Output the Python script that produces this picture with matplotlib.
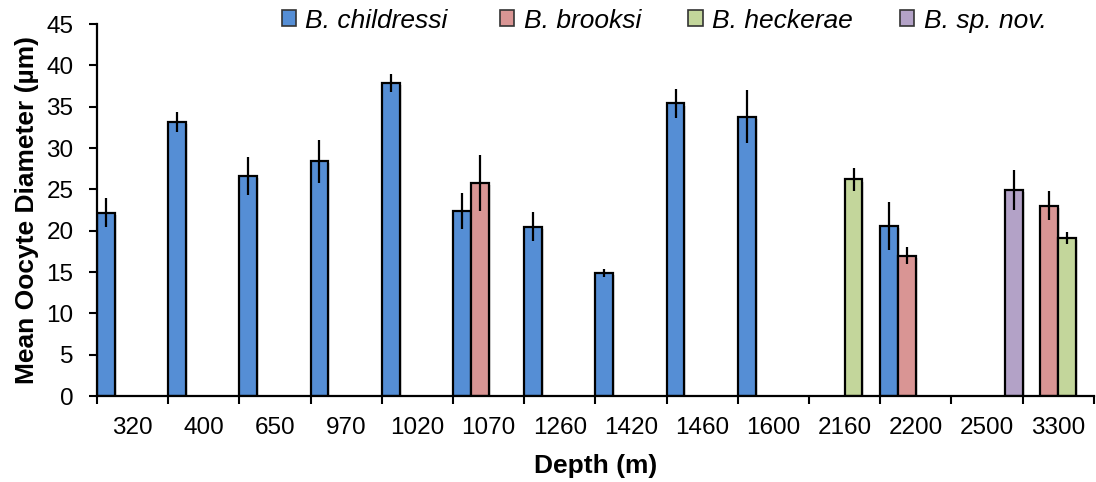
import matplotlib
matplotlib.use('Agg')
import matplotlib.pyplot as plt
import matplotlib.patheffects as pe
from matplotlib.patches import Patch
import numpy as np

plt.rcParams['font.family'] = ['Liberation Sans', 'DejaVu Sans']

depths = ['320', '400', '650', '970', '1020', '1070', '1260', '1420',
          '1460', '1600', '2160', '2200', '2500', '3300']

species = ['B. childressi', 'B. brooksi', 'B. heckerae', 'B. sp. nov.']
colors = ['#558ED5', '#D99594', '#C3D69B', '#B3A2C7']

nan = np.nan
# mean oocyte diameter per depth (um), nan = species not sampled there
childressi = [22.2, 33.2, 26.6, 28.4, 37.9, 22.4, 20.5, 14.9, 35.4, 33.8, nan, 20.6, nan, nan]
brooksi = [nan, nan, nan, nan, nan, 25.8, nan, nan, nan, nan, nan, 17.0, nan, 23.0]
heckerae = [nan, nan, nan, nan, nan, nan, nan, nan, nan, nan, 26.2, nan, nan, 19.1]
sp_nov = [nan, nan, nan, nan, nan, nan, nan, nan, nan, nan, nan, nan, 24.9, nan]

# standard errors
childressi_err = [1.8, 1.2, 2.3, 2.6, 1.1, 2.2, 1.75, 0.45, 1.8, 3.2, nan, 2.9, nan, nan]
brooksi_err = [nan, nan, nan, nan, nan, 3.4, nan, nan, nan, nan, nan, 1.0, nan, 1.75]
heckerae_err = [nan, nan, nan, nan, nan, nan, nan, nan, nan, nan, 1.4, nan, nan, 0.7]
sp_nov_err = [nan, nan, nan, nan, nan, nan, nan, nan, nan, nan, nan, nan, 2.4, nan]

means = [childressi, brooksi, heckerae, sp_nov]
errs = [childressi_err, brooksi_err, heckerae_err, sp_nov_err]

fig = plt.figure(figsize=(10.96, 4.82), dpi=100)
ax = fig.add_axes([0.0885, 0.1784, 0.9095, 0.7716])

x = np.arange(len(depths))
width = 0.25
shadow = [pe.SimplePatchShadow(offset=(1.5, -1.5), shadow_rgbFace='0.5', alpha=0.25), pe.Normal()]

for j in range(len(species)):
    vals = np.array(means[j], dtype=float)
    ee = np.array(errs[j], dtype=float)
    ok = ~np.isnan(vals)
    pos = x[ok] - 0.5 + (j + 0.5) * width
    bars = ax.bar(pos, vals[ok], width, color=colors[j], edgecolor='black',
                  linewidth=1.6, zorder=2)
    for b in bars:
        b.set_path_effects(shadow)
    ax.errorbar(pos, vals[ok], yerr=ee[ok], fmt='none', ecolor='black',
                elinewidth=1.6, capsize=0, zorder=3)

ax.set_xlim(-0.5, len(depths) - 0.5)
ax.set_ylim(0, 45)
ax.set_yticks(np.arange(0, 46, 5))

ax.set_xticks(x)
ax.set_xticklabels(depths)
ax.set_xticks(np.arange(-0.5, len(depths)), minor=True)
ax.tick_params(axis='x', which='major', length=0, pad=15, labelsize=17.5)
ax.tick_params(axis='x', which='minor', length=6, width=1.5, direction='out')
ax.tick_params(axis='y', length=6, width=1.5, direction='out', pad=11, labelsize=17.5)

for s in ['top', 'right']:
    ax.spines[s].set_visible(False)
for s in ['left', 'bottom']:
    ax.spines[s].set_linewidth(1.6)

ax.set_ylabel('Mean Oocyte Diameter (µm)', fontsize=19, fontweight='bold', labelpad=5)
ax.set_xlabel('Depth (m)', fontsize=19, fontweight='bold', labelpad=11)

# one legend entry per species, spread across the top
legend_x = [0.257, 0.456, 0.628, 0.821]
for c, name, lx in zip(colors, species, legend_x):
    fig.legend([Patch(facecolor=c, edgecolor='#333333', linewidth=1.2)], [name],
               loc='center left', bbox_to_anchor=(lx, 0.957), frameon=False,
               borderpad=0, borderaxespad=0, handlelength=0.55, handleheight=0.55,
               handletextpad=0.35, prop={'size': 19, 'style': 'italic'})

fig.savefig('out.png', dpi=100)
